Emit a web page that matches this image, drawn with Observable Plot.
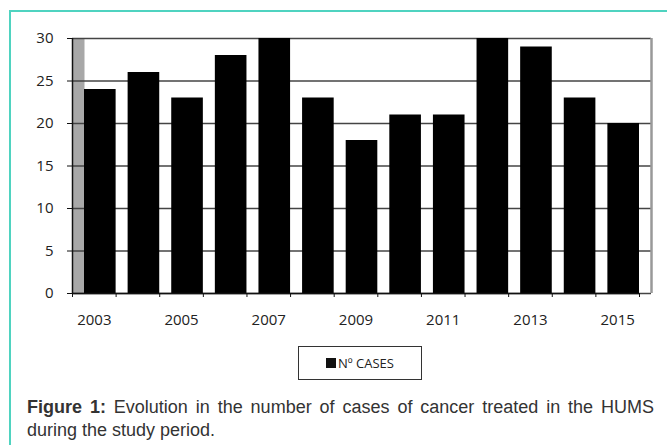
<!DOCTYPE html>
<html>
<head>
<meta charset="utf-8">
<script src="https://cdn.jsdelivr.net/npm/d3@7"></script>
<script src="https://cdn.jsdelivr.net/npm/@observablehq/plot@0.6"></script>
<style>
  html, body { margin: 0; padding: 0; background: #fff; }
  #page { position: relative; width: 667px; height: 445px; overflow: hidden; }
  #frame { position: absolute; left: 9px; top: 10px; right: -5px; bottom: -5px;
           border-left: 2px solid #4fd3c0; border-top: 2px solid #4fd3c0; }
  #chart { position: absolute; left: 0; top: 0; }
  #legend { position: absolute; left: 298px; top: 346px; width: 122px; height: 32px;
            border: 1.5px solid #333; box-sizing: content-box;
            font-family: "Open Sans", sans-serif; font-size: 13px; color: #222;
            display: flex; align-items: center; justify-content: center; }
  #legend .sw { display: inline-block; width: 10px; height: 10px; background: #111; margin-right: 2px; }
  #caption { position: absolute; left: 27px; top: 396px; width: 627px;
             font-family: "Liberation Sans", Arial, sans-serif; font-size: 18px; line-height: 23px;
             color: #333; text-align: justify; }
</style>
</head>
<body>
<div id="page">
  <div id="frame"></div>
  <div id="chart"></div>
  <div id="legend"><span class="sw"></span><span>Nº CASES</span></div>
  <div id="caption"><b>Figure 1:</b> <span>Evolution in the number of cases of cancer treated in the HUMS</span> <span>during the study period.</span></div>
</div>
<script>
const years = [2003, 2004, 2005, 2006, 2007, 2008, 2009, 2010, 2011, 2012, 2013, 2014, 2015];
const cases = [24, 26, 23, 28, 30, 23, 18, 21, 21, 30, 29, 23, 20];
const yTicks = [0, 5, 10, 15, 20, 25, 30];
const xLabels = [2003, 2005, 2007, 2009, 2011, 2013, 2015];

const data = years.map((year, i) => ({year, cases: cases[i]}));
const x0 = years[0] - 0.5;
const xN = years[years.length - 1] + 0.5;
const boundaries = [...years.map(y => y - 0.5), xN];

const chart = Plot.plot({
  width: 667,
  height: 340,
  marginLeft: 72,
  marginRight: 28,
  marginTop: 38,
  marginBottom: 47,
  x: {domain: [x0, xN], label: null},
  y: {domain: [0, 30], label: null},
  style: {fontFamily: "'Open Sans', sans-serif", fontSize: "15px", color: "#222", background: "transparent", overflow: "visible"},
  marks: [
    // side wall (3D depth)
    Plot.ruleX([x0], {stroke: "#a8a8a8", strokeWidth: 12, dx: 6}),
    // gridlines
    Plot.ruleY(yTicks, {stroke: "#444", strokeWidth: 1.5, insetRight: -12}),
    // right back wall edge
    Plot.ruleX([xN], {stroke: "#999", strokeWidth: 2.5, dx: 12}),
    // bars
    Plot.rectY(data, {x1: d => d.year - 0.5, x2: d => d.year + 0.5, y: "cases", insetLeft: 12, fill: "#000"}),
    // axes lines
    Plot.ruleX([x0], {stroke: "#111", strokeWidth: 1.5}),
    Plot.ruleY([0], {stroke: "#111", strokeWidth: 1.5}),
    Plot.axisY({ticks: yTicks, tickSize: 5, tickPadding: 14, stroke: "#111", label: null}),
    Plot.axisX({ticks: boundaries, tickSize: 4, tickFormat: () => "", stroke: "#111", label: null}),
    Plot.axisX({ticks: xLabels, tickSize: 0, tickPadding: 21, tickFormat: d => String(d), label: null})
  ]
});
document.getElementById("chart").appendChild(chart);
</script>
</body>
</html>
